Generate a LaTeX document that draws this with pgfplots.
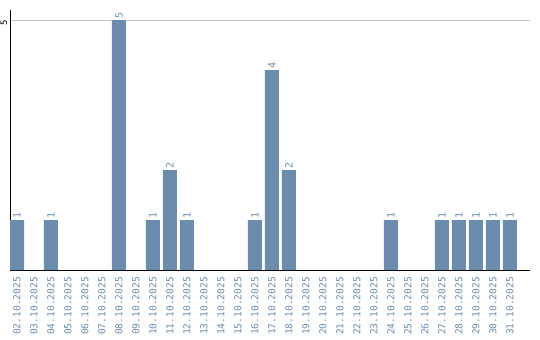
\documentclass[border=0pt]{standalone}
\usepackage{fontspec}
\setmainfont{DejaVu Sans}
\newfontfamily\monofont{DejaVu Sans Mono}
\usepackage{pgfplots}
\pgfplotsset{compat=1.18}
\definecolor{barc}{HTML}{6B8CAD}
\definecolor{labc}{HTML}{6A8CAF}
\begin{document}
\begin{tikzpicture}
\useasboundingbox (-10bp,-70bp) rectangle (530bp,270bp);
\begin{axis}[
  scale only axis,
  width=520bp, height=260bp,
  anchor=south west, at={(0,0)},
  xmin=-0.412, xmax=30.18,
  ymin=0, ymax=5.2,
  axis x line*=bottom, axis y line*=left,
  axis line style={black, line width=1pt},
  xtick={0,...,29},
  xticklabels={02.10.2025,03.10.2025,04.10.2025,05.10.2025,06.10.2025,07.10.2025,08.10.2025,09.10.2025,10.10.2025,11.10.2025,12.10.2025,13.10.2025,14.10.2025,15.10.2025,16.10.2025,17.10.2025,18.10.2025,19.10.2025,20.10.2025,21.10.2025,22.10.2025,23.10.2025,24.10.2025,25.10.2025,26.10.2025,27.10.2025,28.10.2025,29.10.2025,30.10.2025,31.10.2025},
  xticklabel style={rotate=90, anchor=east, font=\monofont\fontsize{9.6}{10}\selectfont, text=labc, inner sep=0pt},
  xticklabel shift=7bp,
  xtick style={draw=none},
  ytick={5},
  yticklabel={\monofont\fontsize{9}{10}\selectfont 5},
  yticklabel style={rotate=90, anchor=south, text=black, inner sep=0pt, xshift=-3bp},
  yticklabel shift=2.5bp,
  ytick style={draw=none},
  ymajorgrids,
  grid style={draw=black!22, line width=0.8pt},
  major tick length=3bp,
  clip=false,
]
\addplot[ybar, bar width=14bp, fill=barc, draw=none,
  point meta=explicit symbolic,
  nodes near coords,
  every node near coord/.append style={rotate=90, anchor=west, text=labc, inner sep=0pt, xshift=1.5bp, font=\monofont\fontsize{10}{11}\selectfont}]
  coordinates {(0,1) [1] (2,1) [1] (6,5) [5] (8,1) [1] (9,2) [2] (10,1) [1] (14,1) [1] (15,4) [4] (16,2) [2] (22,1) [1] (25,1) [1] (26,1) [1] (27,1) [1] (28,1) [1] (29,1) [1]};
\end{axis}
\end{tikzpicture}
\end{document}
